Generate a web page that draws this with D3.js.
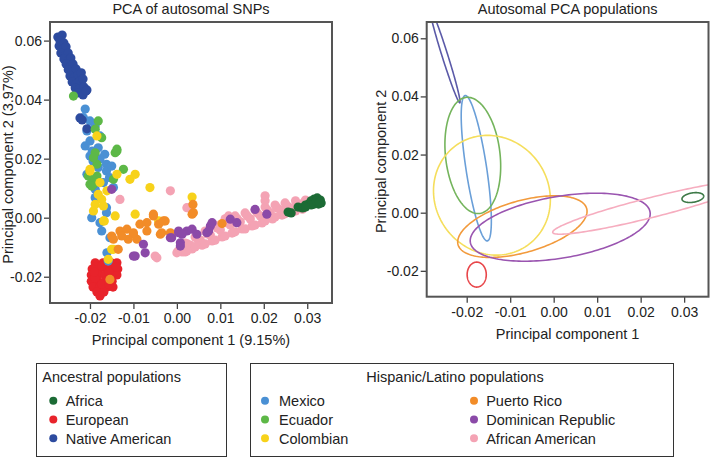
<!DOCTYPE html>
<html>
<head>
<meta charset="utf-8">
<script src="https://cdn.jsdelivr.net/npm/d3@7"></script>
<style>
  body { margin: 0; background: #fff; }
  svg { font-family: "Liberation Sans", Arial, sans-serif; }
</style>
</head>
<body>
<div class="canva"></div>
<script>
// populations [PC1, PC2]
const africa = [[0.0256,0.0019],[0.0263,0.0016],[0.0279,0.0036],[0.0289,0.0033],[0.0296,0.0043],[0.0303,0.0046],
  [0.0309,0.0057],[0.0316,0.0063],[0.0323,0.0067],[0.0330,0.0060],[0.0332,0.0050],[0.0326,0.0046],[0.0316,0.0046],
  [0.0309,0.0043],[0.0321,0.0057],[0.0328,0.0053],[0.0296,0.0036]];
const european = [[-0.0188,-0.0153],[-0.0170,-0.0153],[-0.0151,-0.0153],[-0.0138,-0.0153],
  [-0.0195,-0.0174],[-0.0179,-0.0174],[-0.0163,-0.0174],[-0.0147,-0.0174],[-0.0136,-0.0174],
  [-0.0197,-0.0194],[-0.0181,-0.0194],[-0.0165,-0.0194],[-0.0149,-0.0194],[-0.0138,-0.0194],
  [-0.0197,-0.0215],[-0.0181,-0.0215],[-0.0165,-0.0215],[-0.0149,-0.0215],
  [-0.0193,-0.0235],[-0.0177,-0.0235],[-0.0161,-0.0235],[-0.0147,-0.0235],
  [-0.0184,-0.0252],[-0.0168,-0.0252],[-0.0177,-0.0265],[-0.0158,-0.0147],[-0.0140,-0.0167],
  [-0.0173,-0.0163],[-0.0156,-0.0184],[-0.0189,-0.0205],[-0.0173,-0.0225],[-0.0157,-0.0225],[-0.0190,-0.0184]];
const nativeAmerican = [[-0.0274,0.0612],[-0.0264,0.0619],[-0.0269,0.0599],[-0.0260,0.0592],[-0.0271,0.0582],
  [-0.0262,0.0572],[-0.0255,0.0579],[-0.0267,0.0558],[-0.0257,0.0548],[-0.0250,0.0558],[-0.0260,0.0538],
  [-0.0250,0.0531],[-0.0244,0.0541],[-0.0255,0.0521],[-0.0246,0.0511],[-0.0239,0.0521],[-0.0250,0.0501],
  [-0.0241,0.0494],[-0.0232,0.0504],[-0.0246,0.0480],[-0.0237,0.0473],[-0.0227,0.0484],[-0.0220,0.0491],
  [-0.0241,0.0460],[-0.0232,0.0453],[-0.0223,0.0463],[-0.0216,0.0470],[-0.0234,0.0439],[-0.0225,0.0436],
  [-0.0214,0.0443],[-0.0207,0.0433],[-0.0227,0.0423],[-0.0216,0.0416],[-0.0209,0.0429],
  [-0.0223,0.0338],[-0.0218,0.0331],[-0.0207,0.0301]];
const mexico = [[-0.0211,0.0368],[-0.0215,0.0339],[-0.0200,0.0328],[-0.0207,0.0294],[-0.0211,0.0243],[-0.0200,0.0260],
  [-0.0181,0.0237],[-0.0166,0.0215],[-0.0162,0.0181],[-0.0193,0.0192],[-0.0200,0.0209],[-0.0181,0.0170],
  [-0.0162,0.0158],[-0.0155,0.0136],[-0.0169,0.0119],[-0.0188,0.0068],[-0.0162,0.0034],[-0.0196,0.0000],
  [-0.0162,0.0017],[-0.0177,-0.0017],[-0.0173,-0.0045],[-0.0154,-0.0068],[-0.0161,-0.0119],[-0.0158,-0.0147],
  [-0.0207,0.0147],[-0.0150,0.0175],[-0.0188,0.0096],[-0.0146,0.0102],[-0.0188,0.0311],[-0.0177,0.0277],
  [-0.0195,0.0226],[-0.0177,0.0199]];
const ecuador = [[-0.0238,0.0412],[-0.0181,0.0328],[-0.0188,0.0300],[-0.0173,0.0271],[-0.0138,0.0232],[-0.0142,0.0220],
  [-0.0188,0.0220],[-0.0184,0.0181],[-0.0123,0.0164],[-0.0192,0.0203],[-0.0204,0.0141],[-0.0192,0.0113],
  [-0.0200,0.0113],[-0.0138,0.0226],[-0.0146,0.0130],[-0.0188,0.0130],[-0.0196,0.0107],[-0.0184,0.0141]];
const colombian = [[-0.0184,0.0277],[-0.0200,0.0164],[-0.0200,0.0158],[-0.0138,0.0147],[-0.0108,0.0130],[-0.0096,0.0147],
  [-0.0062,0.0102],[-0.0177,0.0119],[-0.0181,0.0079],[-0.0173,0.0062],[-0.0188,0.0045],[-0.0169,0.0040],
  [-0.0192,0.0023],[-0.0169,-0.0011],[-0.0142,0.0006],[-0.0096,0.0012],[-0.0042,-0.0011],[-0.0150,-0.0107],
  [-0.0158,-0.0141],[-0.0161,0.0091],[0.0035,0.0070],[-0.0167,-0.0011],[-0.0146,-0.0107]];
const puertoRico = [[-0.0150,-0.0062],[-0.0131,-0.0045],[-0.0115,-0.0039],[-0.0100,-0.0056],[-0.0112,-0.0073],
  [-0.0092,-0.0073],[-0.0085,-0.0022],[-0.0069,-0.0045],[-0.0069,-0.0017],[-0.0054,0.0006],[-0.0042,-0.0022],
  [-0.0027,-0.0011],[-0.0035,-0.0051],[-0.0015,-0.0051],[-0.0135,-0.0107],[-0.0154,-0.0209],[-0.0127,-0.0062],
  [-0.0146,-0.0073],[-0.0054,0.0012],[-0.0038,-0.0056],[0.0035,0.0012],[0.0037,0.0045],[0.0104,-0.0020],
  [-0.0031,-0.0011],[0.0038,0.0017],[-0.0100,-0.0051]];
const dominican = [[-0.0150,0.0096],[-0.0077,-0.0090],[-0.0096,-0.0130],[-0.0073,-0.0119],[-0.0012,-0.0068],
  [0.0004,-0.0051],[0.0008,-0.0085],[0.0023,-0.0045],[-0.0015,-0.0068],[0.0004,-0.0045],[0.0008,-0.0096],
  [0.0035,-0.0039],[0.0046,-0.0056],[0.0069,-0.0051],[0.0077,-0.0028],[0.0081,-0.0017],[0.0123,-0.0005],
  [0.0138,-0.0017],[0.0180,0.0028],[0.0207,0.0012],[0.0012,-0.0056],[0.0073,-0.0045],[-0.0100,-0.0130]];
const africanAmerican = [
  [0.0019,-0.0086],[0.0042,-0.0065],[0.0065,-0.0045],[0.0088,-0.0025],[0.0111,-0.0004],[0.0134,0.0006],[0.0157,0.0016],
  [0.0180,0.0026],[0.0203,0.0036],[0.0226,0.0043],[0.0249,0.0050],[0.0273,0.0057],[0.0296,0.0060],
  [0.0024,-0.0089],[0.0047,-0.0072],[0.0070,-0.0055],[0.0093,-0.0035],[0.0116,-0.0018],[0.0139,-0.0004],[0.0162,0.0006],
  [0.0185,0.0016],[0.0208,0.0026],[0.0231,0.0033],[0.0254,0.0040],[0.0277,0.0046],[0.0291,0.0050],
  [0.0003,-0.0113],[0.0031,-0.0093],[0.0054,-0.0076],[0.0077,-0.0059],[0.0100,-0.0042],[0.0123,-0.0025],[0.0146,-0.0014],
  [0.0169,-0.0004],[0.0192,0.0006],[0.0215,0.0016],[0.0238,0.0026],[0.0261,0.0033],[0.0284,0.0040],
  [0.0012,-0.0116],[0.0035,-0.0106],[0.0058,-0.0093],[0.0081,-0.0079],[0.0104,-0.0065],[0.0127,-0.0052],[0.0150,-0.0038],
  [0.0173,-0.0028],[0.0196,-0.0018],[0.0220,-0.0004],[0.0242,0.0009],[0.0266,0.0019],[0.0289,0.0029],
  [0.0019,-0.0116],[0.0042,-0.0099],[0.0065,-0.0089],[0.0088,-0.0076],[0.0111,-0.0062],[0.0134,-0.0048],[0.0157,-0.0038],
  [0.0180,-0.0025],[0.0203,-0.0011],[0.0226,0.0002],[0.0249,0.0013],[0.0273,0.0023],
  [-0.0015,0.0091],[0.0027,0.0034],[0.0203,0.0074],[0.0203,0.0057],[0.0119,0.0006],[-0.0050,-0.0130],
  [-0.0131,0.0062],[0.0023,0.0034],[-0.0046,-0.0136],[0.0000,-0.0119],[0.0023,-0.0113]];

// ellipse per population: centre, top point offset, half width at centre (all PC units)
const ellipseNames = ["Native American", "Mexico", "Ecuador", "Colombian", "Puerto Rico", "Dominican Republic", "African American", "Africa", "European"];
const ellipseCentre = [[-0.0250,0.0540],[-0.0178,0.0153],[-0.0186,0.0197],[-0.0142,0.0060],[-0.0072,-0.0048],[0.0015,-0.0050],[0.0225,0.0018],[0.0320,0.0052],[-0.0177,-0.0213]];
const ellipseTop = [[-0.0034,0.0162],[-0.0025,0.0250],[-0.0012,0.0200],[-0.0010,0.0206],[0.0074,0.0106],[0.0082,0.0117],[0.0210,0.0092],[0.0007,0.0017],[0.0000,0.0043]];
const ellipseHalfWidth = [0.0007, 0.0024, 0.0063, 0.0134, 0.0129, 0.0190, 0.0087, 0.0024, 0.0022];

const ancestral = ["Africa", "European", "Native American"];
const hispanic = ["Mexico", "Ecuador", "Colombian", "Puerto Rico", "Dominican Republic", "African American"];
const xTicks = [-0.02, -0.01, 0.00, 0.01, 0.02, 0.03];
const yTicks = [-0.02, 0.00, 0.02, 0.04, 0.06];

const pointColor = {
  "Africa": "#1c6b35", "European": "#e8232b", "Native American": "#2d4b9f",
  "Mexico": "#4a90d4", "Ecuador": "#5db847", "Colombian": "#f7d21a",
  "Puerto Rico": "#f28c28", "Dominican Republic": "#8b4aa8", "African American": "#f4a3b4"
};
const lineColor = {
  "Africa": "#3e7a48", "European": "#e8464a", "Native American": "#5b5aa8",
  "Mexico": "#6a9fd8", "Ecuador": "#74b45c", "Colombian": "#f5de5c",
  "Puerto Rico": "#f29a3c", "Dominican Republic": "#9a55b0", "African American": "#f6adbf"
};
// draw order
const scatterSets = [["European", european], ["African American", africanAmerican], ["Africa", africa],
  ["Mexico", mexico], ["Native American", nativeAmerican], ["Ecuador", ecuador], ["Colombian", colombian],
  ["Puerto Rico", puertoRico], ["Dominican Republic", dominican]];

const svg = d3.select('.canva').append('svg')
  .attr('width', 714)
  .attr('height', 460);

const fmt = d => d.toFixed(2);
const textCol = "#222";

function panel(x0, x1, y0, y1, xDom, yDom, id, title, xLab, yLab, yLabX, xLabY) {
  const x = d3.scaleLinear().domain(xDom).range([x0, x1]);
  const y = d3.scaleLinear().domain(yDom).range([y1, y0]);

  svg.append('clipPath').attr('id', id)
    .append('rect').attr('x', x0).attr('y', y0).attr('width', x1 - x0).attr('height', y1 - y0);

  const gx = svg.append('g').attr('transform', `translate(0,${y1})`)
    .call(d3.axisBottom(x).tickValues(xTicks).tickFormat(fmt).tickSize(6).tickPadding(4));
  const gy = svg.append('g').attr('transform', `translate(${x0},0)`)
    .call(d3.axisLeft(y).tickValues(yTicks).tickFormat(fmt).tickSize(6).tickPadding(2));
  [gx, gy].forEach(g => {
    g.select('.domain').remove();
    g.selectAll('line').attr('stroke', '#444').attr('stroke-width', 1.3);
    g.selectAll('text').attr('fill', textCol).style('font-size', '14px')
      .style('font-family', '"Liberation Sans", Arial, sans-serif');
  });

  svg.append('text').attr('x', (x0 + x1) / 2).attr('y', 14).attr('text-anchor', 'middle')
    .attr('fill', textCol).style('font-size', '14.5px').text(title);
  svg.append('text').attr('x', (x0 + x1) / 2).attr('y', xLabY).attr('text-anchor', 'middle')
    .attr('fill', textCol).style('font-size', '14.5px').text(xLab);
  svg.append('text').attr('transform', `translate(${yLabX},${(y0 + y1) / 2 + 2}) rotate(-90)`)
    .attr('text-anchor', 'middle').attr('fill', textCol).style('font-size', '14.5px').text(yLab);

  const plot = svg.append('g').attr('clip-path', `url(#${id})`);
  return { x, y, plot, frame: () => svg.append('rect').attr('x', x0).attr('y', y0)
    .attr('width', x1 - x0).attr('height', y1 - y0)
    .attr('fill', 'none').attr('stroke', '#555').attr('stroke-width', 2) };
}

// left: scatter
const L = panel(50, 332, 22, 303, [-0.0292, 0.0357], [-0.0289, 0.0663], 'clipL',
  'PCA of autosomal SNPs', 'Principal component 1 (9.15%)', 'Principal component 2 (3.97%)', 13, 345);
scatterSets.forEach(([name, pts]) => {
  L.plot.append('g').selectAll('circle').data(pts).join('circle')
    .attr('cx', d => L.x(d[0]))
    .attr('cy', d => L.y(d[1]))
    .attr('r', 4.6)
    .attr('fill', pointColor[name]);
});
L.frame();

// right: ellipses
const R = panel(426.7, 708.5, 22, 296.7, [-0.0292, 0.0356], [-0.0289, 0.0656], 'clipR',
  'Autosomal PCA populations', 'Principal component 1', 'Principal component 2', 386, 339);
const angles = d3.range(0, 2 * Math.PI, Math.PI / 90);
const ell = d3.line().curve(d3.curveLinearClosed);
ellipseNames.forEach((name, i) => {
  const c = ellipseCentre[i], a = ellipseTop[i], b = ellipseHalfWidth[i];
  const pts = angles.map(t => [
    R.x(c[0] + a[0] * Math.sin(t) + b * Math.cos(t)),
    R.y(c[1] + a[1] * Math.sin(t))
  ]);
  R.plot.append('path').attr('d', ell(pts))
    .attr('fill', 'none').attr('stroke', lineColor[name]).attr('stroke-width', 1.6);
});
R.frame();

// legends
function legendBox(x0, x1, title, titleX, anchor) {
  svg.append('rect').attr('x', x0).attr('y', 363.5).attr('width', x1 - x0).attr('height', 93)
    .attr('fill', 'none').attr('stroke', '#333').attr('stroke-width', 1);
  svg.append('text').attr('x', titleX).attr('y', 382).attr('text-anchor', anchor)
    .attr('fill', textCol).style('font-size', '14.5px').text(title);
}
legendBox(36.5, 226.5, 'Ancestral populations', 42.3, 'start');
legendBox(250.5, 673.5, 'Hispanic/Latino populations', 455, 'middle');

const rowY = d3.scalePoint().domain([0, 1, 2]).range([400.7, 438.3]);
function legendItems(names, cx, tx, rows) {
  names.forEach((n, i) => {
    const r = i % rows;
    svg.append('circle').attr('cx', cx).attr('cy', rowY(r)).attr('r', 4).attr('fill', pointColor[n]);
    svg.append('text').attr('x', tx).attr('y', rowY(r) + 5.2).attr('fill', textCol)
      .style('font-size', '14.5px').text(n);
  });
}
legendItems(ancestral, 53.3, 65.7, 3);
legendItems(hispanic.slice(0, 3), 265, 279, 3);
legendItems(hispanic.slice(3), 474, 486.2, 3);
</script>
</body>
</html>
